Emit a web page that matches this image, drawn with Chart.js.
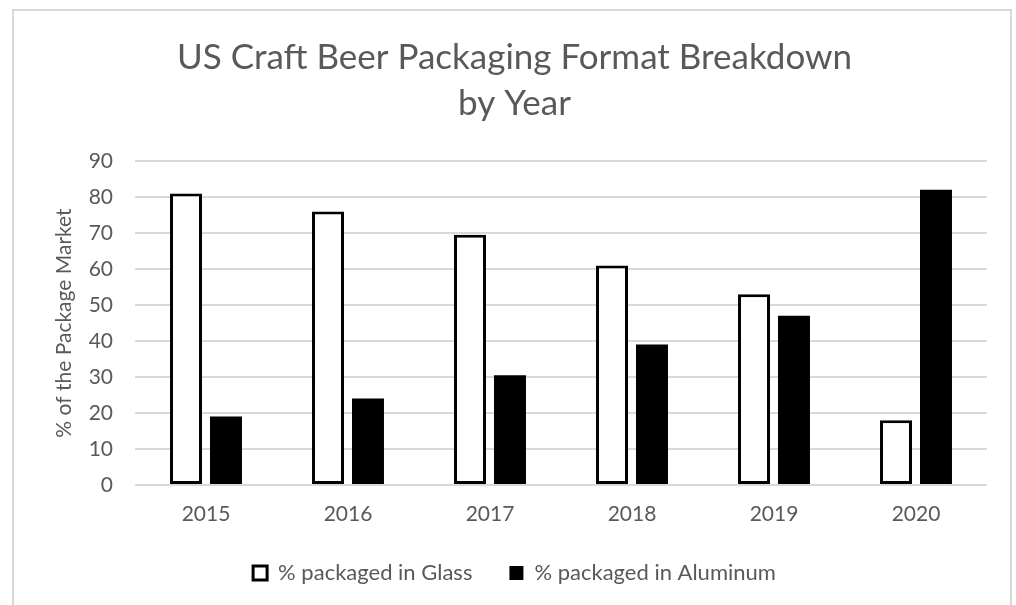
<!DOCTYPE html>
<html>
<head>
<meta charset="utf-8">
<script src="https://cdn.jsdelivr.net/npm/chart.js@4"></script>
<style>
  html, body { margin: 0; padding: 0; background: #fff; }
  #wrap { position: relative; width: 1016px; height: 605px; overflow: hidden; }
  #frame { position: absolute; left: 12px; top: 9px; width: 1000px; height: 640px;
           border: 2px solid #d9d9d9; box-sizing: border-box; pointer-events: none; }
</style>
</head>
<body>
<div id="wrap">
  <canvas id="beer" width="1016" height="605"></canvas>
  <div id="frame"></div>
</div>
<script>
// Jahre und Anteile (in %) ablesen
var years = ["2015", "2016", "2017", "2018", "2019", "2020"];
var glass = [81, 76, 69.5, 61, 53, 18];
var aluminum = [19, 24, 30.5, 39, 47, 82];
var yTicks = [0, 10, 20, 30, 40, 50, 60, 70, 80, 90];

var grey = "#595959";
var font = "Lato, 'Open Sans', sans-serif";

var beer_chartdata = {
  labels: years,
  datasets: [
    {
      label: "% packaged in Glass",
      backgroundColor: "#ffffff",
      borderColor: "#000000",
      borderWidth: 3,
      borderSkipped: false,
      data: glass
    },
    {
      label: "% packaged in Aluminum",
      backgroundColor: "#000000",
      borderColor: "#000000",
      borderWidth: 0,
      data: aluminum
    }
  ]
};

var ctx = document.getElementById("beer");
var myChart = new Chart(ctx, {
  type: "bar",
  data: beer_chartdata,
  options: {
    responsive: false,
    animation: false,
    categoryPercentage: 0.563,
    barPercentage: 0.8,
    layout: {
      padding: { left: 42, right: 29, top: 0, bottom: 11 }
    },
    plugins: {
      title: {
        display: true,
        text: ["US Craft Beer Packaging Format Breakdown", "by Year"],
        color: grey,
        font: { family: font, size: 35, weight: "normal", lineHeight: 1.3 },
        padding: { top: 35, bottom: 35 }
      },
      legend: {
        position: "bottom",
        labels: {
          color: grey,
          font: { family: font, size: 22 },
          boxWidth: 14,
          boxHeight: 14,
          padding: 37
        }
      },
      tooltip: { enabled: false }
    },
    scales: {
      x: {
        grid: { display: false, drawTicks: false },
        border: { display: false },
        ticks: { color: grey, font: { family: font, size: 21 }, padding: 17 },
        afterFit: function (s) { s.height = 40; }
      },
      y: {
        min: 0,
        max: 90,
        afterBuildTicks: function (s) { s.ticks = yTicks.map(function (v) { return { value: v }; }); },
        grid: { color: "#d9d9d9", lineWidth: 2, drawTicks: false },
        border: { display: false },
        ticks: { color: grey, font: { family: font, size: 21 }, padding: 22 },
        title: {
          display: true,
          text: "% of the Package Market",
          color: grey,
          font: { family: font, size: 21 },
          padding: { top: 10, bottom: 0 }
        },
        afterFit: function (s) { s.width = 93; }
      }
    }
  }
});
</script>
</body>
</html>
